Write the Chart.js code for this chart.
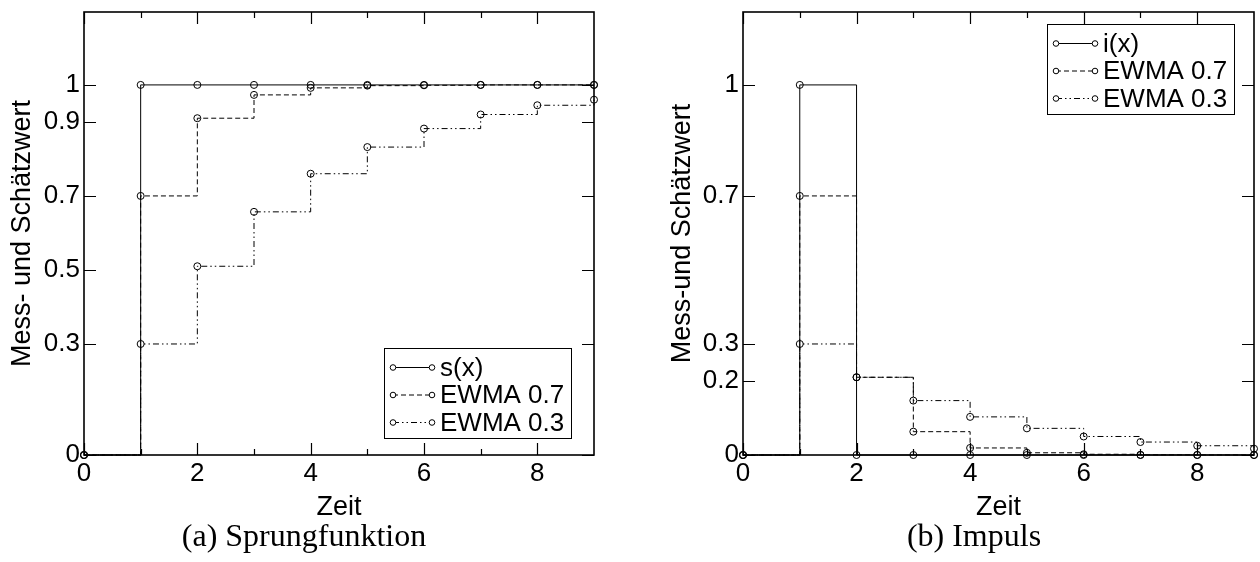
<!DOCTYPE html>
<html><head><meta charset="utf-8">
<script src="https://cdn.jsdelivr.net/npm/chart.js@4/dist/chart.umd.min.js"></script>
<style>
html,body{margin:0;padding:0;background:#fff;}
#wrap{position:relative;width:1260px;height:562px;overflow:hidden;background:#fff;}
.c{position:absolute;top:0;}
.cap{position:absolute;font-family:"Liberation Serif","Times New Roman",serif;font-size:32px;line-height:32px;white-space:nowrap;transform:translateX(-50%);color:#000;top:519px;}
</style></head><body>
<div id="wrap">
<canvas id="a" class="c" width="630" height="562" style="left:0"></canvas>
<canvas id="b" class="c" width="630" height="562" style="left:630px"></canvas>
<div class="cap" style="left:304px">(a) Sprungfunktion</div>
<div class="cap" style="left:974px">(b) Impuls</div>
</div>
<script>
// ---- data ----
const zeit = [0, 1, 2, 3, 4, 5, 6, 7, 8, 9];
// (a) Sprungfunktion
const sprungS = [0, 1, 1, 1, 1, 1, 1, 1, 1, 1];
const sprungEwma07 = [0, 0.7, 0.91, 0.973, 0.992, 0.998, 0.999, 1, 1, 1];
const sprungEwma03 = [0, 0.3, 0.51, 0.657, 0.76, 0.832, 0.882, 0.92, 0.945, 0.96];
// (b) Impuls
const impulsI = [0, 1, 0, 0, 0, 0, 0, 0, 0, 0];
const impulsEwma07 = [0, 0.7, 0.21, 0.063, 0.019, 0.006, 0.002, 0.0005, 0.0002, 0.0001];
const impulsEwma03 = [0, 0.3, 0.21, 0.147, 0.103, 0.072, 0.05, 0.035, 0.025, 0.017];
// ticks
const xMajorTicks = [0, 2, 4, 6, 8];
const xMinorTicks = [1, 3, 5, 7];
const yTicksA = [0, 0.3, 0.5, 0.7, 0.9, 1];
const yTicksB = [0, 0.2, 0.3, 0.7, 1];
const seriesLabelsA = ['s(x)', 'EWMA 0.7', 'EWMA 0.3'];
const seriesLabelsB = ['i(x)', 'EWMA 0.7', 'EWMA 0.3'];

const SANS = '"Liberation Sans", Arial, Helvetica, sans-serif';
const dashes = [[], [5, 3], [6, 3, 1.5, 3, 1.5, 3]];

function pts(ys) { return zeit.map((x, i) => ({x: x, y: ys[i]})); }

function makeDataset(label, ys, k) {
  return {
    label: label, data: pts(ys), stepped: 'before',
    borderColor: '#000', borderWidth: 1, borderDash: dashes[k],
    pointRadius: 3.5, pointHoverRadius: 3.5, pointBorderWidth: 1,
    pointBorderColor: '#000', pointBackgroundColor: 'rgba(0,0,0,0)',
    fill: false, clip: false, tension: 0
  };
}

const framePlugin = {
  id: 'frameTicks',
  afterDatasetsDraw(chart, args, opts) {
    const ctx = chart.ctx, ca = chart.chartArea;
    const xs = chart.scales.x, ys = chart.scales.y;
    ctx.save();
    ctx.strokeStyle = '#000';
    ctx.setLineDash([]);
    ctx.lineWidth = 1.2;
    ctx.beginPath();
    xMajorTicks.forEach(v => {
      const p = Math.round(xs.getPixelForValue(v)) + 0.5;
      ctx.moveTo(p, ca.bottom); ctx.lineTo(p, ca.bottom - 12);
      ctx.moveTo(p, ca.top); ctx.lineTo(p, ca.top + 12);
    });
    xMinorTicks.forEach(v => {
      const p = Math.round(xs.getPixelForValue(v)) + 0.5;
      ctx.moveTo(p, ca.bottom); ctx.lineTo(p, ca.bottom - 6);
      ctx.moveTo(p, ca.top); ctx.lineTo(p, ca.top + 6);
    });
    opts.yTicks.forEach(v => {
      const p = Math.round(ys.getPixelForValue(v)) + 0.5;
      ctx.moveTo(ca.left, p); ctx.lineTo(ca.left + 12, p);
      ctx.moveTo(ca.right, p); ctx.lineTo(ca.right - 12, p);
    });
    ctx.stroke();
    ctx.lineWidth = 1.6;
    ctx.strokeRect(ca.left, ca.top, ca.right - ca.left, ca.bottom - ca.top);
    ctx.restore();
  }
};

const legendPlugin = {
  id: 'stepLegend',
  afterDraw(chart, args, opts) {
    const ctx = chart.ctx, ca = chart.chartArea;
    ctx.save();
    ctx.font = '26px ' + SANS;
    const items = chart.data.datasets;
    const tw = Math.max(...items.map(d => ctx.measureText(d.label).width));
    const w = Math.round(57 + tw + 6), h = 90;
    const x0 = Math.round(ca.right - opts.right - w);
    const y0 = Math.round(opts.top != null ? ca.top + opts.top : ca.bottom - opts.bottom - h);
    ctx.fillStyle = '#fff';
    ctx.fillRect(x0, y0, w, h);
    ctx.strokeStyle = '#000';
    ctx.lineWidth = 1;
    ctx.strokeRect(x0 + 0.5, y0 + 0.5, w, h);
    items.forEach((d, i) => {
      const y = y0 + 19.5 + i * 27.5;
      ctx.setLineDash(d.borderDash || []);
      ctx.beginPath(); ctx.moveTo(x0 + 9, y); ctx.lineTo(x0 + 48, y); ctx.stroke();
      ctx.setLineDash([]);
      [x0 + 9, x0 + 48].forEach(cx => {
        ctx.beginPath(); ctx.arc(cx, y, 2.8, 0, Math.PI * 2);
        ctx.fillStyle = '#fff'; ctx.fill(); ctx.stroke();
      });
      ctx.fillStyle = '#000'; ctx.textBaseline = 'middle'; ctx.textAlign = 'left';
      ctx.fillText(d.label, x0 + 56, y + 1);
    });
    ctx.restore();
  }
};

function makeChart(id, labels, s1, s2, s3, yTicks, yAxisWidth, padRight, yTitle, yTitlePad, legendOpts) {
  return new Chart(document.getElementById(id), {
    type: 'line',
    data: { datasets: [makeDataset(labels[0], s1, 0), makeDataset(labels[1], s2, 1), makeDataset(labels[2], s3, 2)] },
    options: {
      responsive: false, animation: false, devicePixelRatio: 1,
      layout: { padding: { left: 0, right: padRight, top: 12, bottom: 27 } },
      plugins: { legend: { display: false }, title: { display: false }, tooltip: { enabled: false },
        frameTicks: { yTicks: yTicks }, stepLegend: legendOpts },
      scales: {
        x: {
          type: 'linear', min: 0, max: 9,
          grid: { display: false, drawTicks: false }, border: { display: false },
          afterBuildTicks: sc => { sc.ticks = xMajorTicks.map(v => ({ value: v })); },
          afterFit: sc => { sc.height = 80; sc.paddingLeft = 0; sc.paddingRight = 0; },
          ticks: { autoSkip: false, maxRotation: 0, padding: 3, color: '#000',
            font: { family: SANS, size: 26 }, callback: v => String(v) },
          title: { display: true, text: 'Zeit', color: '#000',
            font: { family: SANS, size: 27, lineHeight: 1.2 }, padding: { top: 0, bottom: 11 } }
        },
        y: {
          type: 'linear', min: 0, max: 1.197,
          grid: { display: false, drawTicks: false }, border: { display: false },
          afterBuildTicks: sc => { sc.ticks = yTicks.map(v => ({ value: v })); },
          afterFit: sc => { sc.width = yAxisWidth; sc.paddingTop = 0; sc.paddingBottom = 0; },
          ticks: { autoSkip: false, padding: 4, color: '#000',
            font: { family: SANS, size: 26 }, callback: v => String(v) },
          title: { display: true, text: yTitle, color: '#000',
            font: { family: SANS, size: 27, lineHeight: 1.2 }, padding: { top: yTitlePad, bottom: 0 } }
        }
      }
    },
    plugins: [framePlugin, legendPlugin]
  });
}

makeChart('a', seriesLabelsA, sprungS, sprungEwma07, sprungEwma03, yTicksA, 84, 36,
  'Mess- und Schätzwert', 6.4, { right: 23, bottom: 17 });
makeChart('b', seriesLabelsB, impulsI, impulsEwma07, impulsEwma03, yTicksB, 113, 6,
  'Mess-und Schätzwert', 36.4, { right: 20, top: 12 });
</script>
</body></html>
